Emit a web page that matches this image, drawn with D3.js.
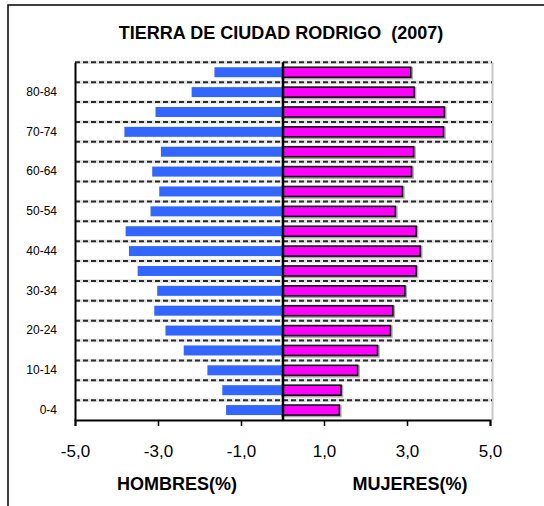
<!DOCTYPE html>
<html>
<head>
<meta charset="utf-8">
<script src="https://cdn.jsdelivr.net/npm/d3@7"></script>
<style>
  body { margin: 0; background: #fff; }
  svg { display: block; font-family: "Liberation Sans", Arial, sans-serif; }
</style>
</head>
<body>
<div id="chart"></div>
<script>
// Age groups, bottom to top
var ageGroups = ["0-4", "5-9", "10-14", "15-19", "20-24", "25-29", "30-34", "35-39", "40-44",
                 "45-49", "50-54", "55-59", "60-64", "65-69", "70-74", "75-79", "80-84", "85+"];
// labels shown on the vertical axis
var ageLabels = ["0-4", "10-14", "20-24", "30-34", "40-44", "50-54", "60-64", "70-74", "80-84"];

// % of population by sex
var hombres = [1.36, 1.45, 1.81, 2.38, 2.82, 3.09, 3.02, 3.49, 3.70, 3.78, 3.18, 2.97, 3.14, 2.93, 3.81, 3.06, 2.19, 1.64];
var mujeres = [1.37, 1.41, 1.81, 2.29, 2.60, 2.66, 2.95, 3.22, 3.32, 3.22, 2.72, 2.89, 3.11, 3.16, 3.88, 3.90, 3.17, 3.09];

var xTicks = [-5, -3, -1, 1, 3, 5];

var svgWidth = 544;
var svgHeight = 506;

var svg = d3.select("#chart").append("svg")
    .attr("width", svgWidth)
    .attr("height", svgHeight);

// outer frame (runs past the right/bottom edge of the picture)
svg.append("rect")
    .attr("x", 8).attr("y", 5)
    .attr("width", 600).attr("height", 600)
    .attr("fill", "none")
    .attr("stroke", "#000")
    .attr("stroke-width", 1.5);

// plot area
var plot = { left: 75, right: 490, top: 62.3, bottom: 420 };

var xScale = d3.scaleLinear()
    .domain([-5, 5])
    .range([plot.left, plot.right]);

var yScale = d3.scaleBand()
    .domain(ageGroups)
    .range([plot.bottom, plot.top]);

var barH = 10;

// right border of plot area
svg.append("line")
    .attr("x1", 492.5).attr("x2", 492.5)
    .attr("y1", plot.top).attr("y2", plot.bottom)
    .attr("stroke", "#c8c8c8")
    .attr("stroke-width", 2);

// dashed grid lines at category boundaries (light halo + dark dashes)
var boundaries = ageGroups.map(d => yScale(d));
svg.selectAll(".halo")
    .data(boundaries)
    .enter()
    .append("line")
    .attr("class", "halo")
    .attr("x1", plot.left).attr("x2", 492)
    .attr("y1", d => d).attr("y2", d => d)
    .attr("stroke", "#e2e2e2")
    .attr("stroke-width", 3.5);

svg.selectAll(".grid")
    .data(boundaries)
    .enter()
    .append("line")
    .attr("class", "grid")
    .attr("x1", plot.left).attr("x2", 492)
    .attr("y1", d => d).attr("y2", d => d)
    .attr("stroke", "#2a2a2a")
    .attr("stroke-width", 2)
    .attr("stroke-dasharray", "5,3");

// men bars (left)
svg.selectAll(".hombre")
    .data(hombres)
    .enter()
    .append("rect")
    .attr("class", "hombre")
    .attr("x", d => xScale(-d))
    .attr("y", (d, i) => yScale(ageGroups[i]) + yScale.bandwidth() / 2 - barH / 2)
    .attr("width", d => xScale(0) - xScale(-d))
    .attr("height", barH)
    .attr("fill", "#3366ff");

// women bars (right) with a soft grey shadow
svg.selectAll(".sombra")
    .data(mujeres)
    .enter()
    .append("rect")
    .attr("class", "sombra")
    .attr("x", xScale(0))
    .attr("y", (d, i) => yScale(ageGroups[i]) + yScale.bandwidth() / 2 - barH / 2 + 1)
    .attr("width", d => xScale(d) - xScale(0) + 1)
    .attr("height", barH)
    .attr("fill", "none")
    .attr("stroke", "#aaa")
    .attr("stroke-width", 2.5);

svg.selectAll(".mujer")
    .data(mujeres)
    .enter()
    .append("rect")
    .attr("class", "mujer")
    .attr("x", xScale(0))
    .attr("y", (d, i) => yScale(ageGroups[i]) + yScale.bandwidth() / 2 - barH / 2)
    .attr("width", d => xScale(d) - xScale(0))
    .attr("height", barH)
    .attr("fill", "#ff00ff")
    .attr("stroke", "#111")
    .attr("stroke-width", 1.6);

// center line
svg.append("line")
    .attr("x1", xScale(0) + 0.5).attr("x2", xScale(0) + 0.5)
    .attr("y1", plot.top).attr("y2", plot.bottom)
    .attr("stroke", "#000")
    .attr("stroke-width", 2.5);

// axes
var bottomAxis = d3.axisBottom(xScale)
    .tickValues(xTicks)
    .tickSize(6)
    .tickPadding(19)
    .tickFormat(d => d.toFixed(1).replace(".", ","));

var leftAxis = d3.axisLeft(yScale)
    .tickValues(ageLabels)
    .tickSize(0)
    .tickPadding(18);

var gx = svg.append("g")
    .attr("transform", `translate(0, ${plot.bottom})`)
    .call(bottomAxis);
gx.select(".domain").attr("stroke", "#000").attr("stroke-width", 2);
gx.selectAll(".tick line").attr("stroke", "#000").attr("stroke-width", 1.5);
gx.selectAll(".tick text")
    .attr("font-size", 17)
    .attr("font-family", "Liberation Sans, Arial, sans-serif")
    .attr("fill", "#000");

var gy = svg.append("g")
    .attr("transform", `translate(${plot.left}, 0)`)
    .call(leftAxis);
gy.select(".domain").attr("stroke", "#000").attr("stroke-width", 2);
gy.selectAll(".tick text")
    .attr("font-size", 12)
    .attr("font-family", "Liberation Sans, Arial, sans-serif")
    .attr("fill", "#000");

// title
svg.append("text")
    .attr("x", 281)
    .attr("y", 38.5)
    .attr("text-anchor", "middle")
    .attr("font-size", 18)
    .attr("font-weight", "bold")
    .style("white-space", "pre")
    .text("TIERRA DE CIUDAD RODRIGO  (2007)");

// axis titles
svg.append("text")
    .attr("x", 177)
    .attr("y", 490)
    .attr("text-anchor", "middle")
    .attr("font-size", 18)
    .attr("font-weight", "bold")
    .text("HOMBRES(%)");

svg.append("text")
    .attr("x", 410)
    .attr("y", 490)
    .attr("text-anchor", "middle")
    .attr("font-size", 18)
    .attr("font-weight", "bold")
    .text("MUJERES(%)");
</script>
</body>
</html>
